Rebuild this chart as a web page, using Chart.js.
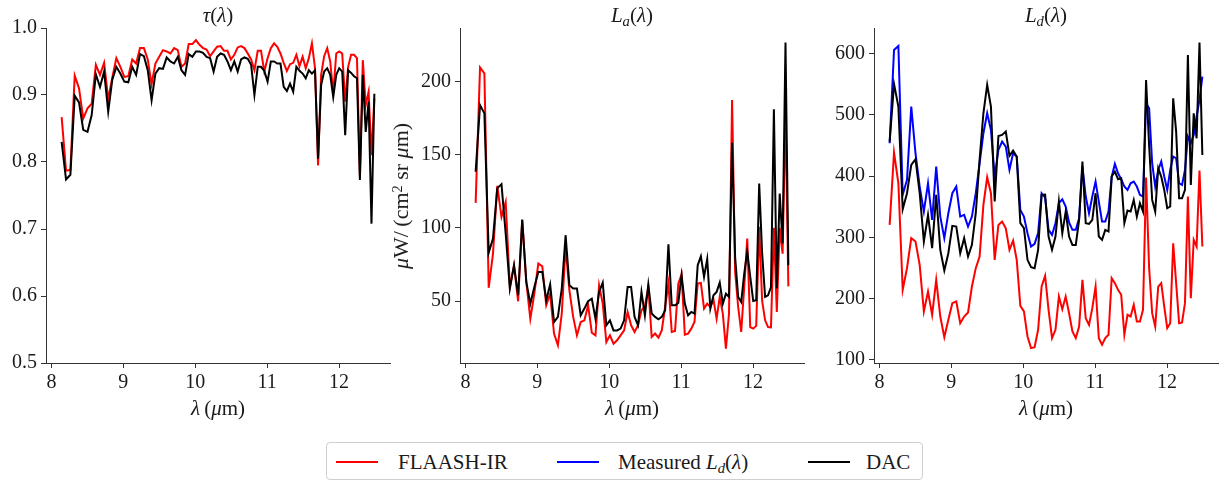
<!DOCTYPE html>
<html><head><meta charset="utf-8">
<script src="https://cdn.jsdelivr.net/npm/chart.js@4.4.0/dist/chart.umd.min.js"></script>
<style>
body{margin:0;background:#fff;width:1226px;height:482px;overflow:hidden;position:relative;font-family:"Liberation Serif","Times New Roman","DejaVu Serif",serif;color:#1a1a1a}
canvas{position:absolute;top:0}
.t{position:absolute;transform:translate(-50%,-50%);white-space:nowrap;font-size:21px;line-height:1;font-family:"Liberation Serif","Times New Roman",serif}
.sub{font-size:70%;position:relative;top:0.3em}
.sup{font-size:65%;position:relative;top:-0.45em}
.lg{position:absolute;left:326px;top:442px;width:597px;height:38px;border:1px solid #cfcfcf;border-radius:4px;box-sizing:border-box}
.ln{position:absolute;height:2px;top:461px}
.lt{position:absolute;top:462px;transform:translateY(-50%);font-size:21px;line-height:1;white-space:nowrap;font-family:"Liberation Serif","Times New Roman",serif}
</style></head><body>
<canvas id="c1" width="400" height="400" style="left:0px"></canvas>
<canvas id="c2" width="400" height="400" style="left:410px"></canvas>
<canvas id="c3" width="406" height="400" style="left:820px"></canvas>

<div class="t" style="left:218px;top:15px"><i>τ</i>(<i>λ</i>)</div>
<div class="t" style="left:632px;top:15px"><i>L</i><span class="sub"><i>a</i></span>(<i>λ</i>)</div>
<div class="t" style="left:1046px;top:15px"><i>L</i><span class="sub"><i>d</i></span>(<i>λ</i>)</div>
<div class="t" style="left:218px;top:408px"><i>λ</i>&#8201;(<i>μ</i>m)</div>
<div class="t" style="left:632px;top:408px"><i>λ</i>&#8201;(<i>μ</i>m)</div>
<div class="t" style="left:1046px;top:408px"><i>λ</i>&#8201;(<i>μ</i>m)</div>
<div class="t" style="left:401px;top:196px;transform:translate(-50%,-50%) rotate(-90deg);font-size:22px"><i>μ</i>W/&#8201;(cm<span class="sup">2</span> sr <i>μ</i>m)</div>

<div class="lg"></div>
<div class="ln" style="left:336px;width:42px;background:#ff0000"></div>
<div class="lt" style="left:398px">FLAASH-IR</div>
<div class="ln" style="left:557px;width:42px;background:#0000ff"></div>
<div class="lt" style="left:618px">Measured <i>L</i><span class="sub"><i>d</i></span>(<i>λ</i>)</div>
<div class="ln" style="left:808px;width:42px;background:#000000"></div>
<div class="lt" style="left:866px">DAC</div>

<script>
const wavelength = [
8.1425, 8.2035, 8.2640, 8.3241, 8.3838, 8.4430, 8.5018, 8.5602, 8.6182, 8.6759,
8.7331, 8.7900, 8.8465, 8.9027, 8.9585, 9.0139, 9.0690, 9.1238, 9.1783, 9.2324,
9.2862, 9.3398, 9.3930, 9.4459, 9.4985, 9.5508, 9.6028, 9.6546, 9.7061, 9.7573,
9.8082, 9.8589, 9.9093, 9.9595, 10.0094, 10.0591, 10.1085, 10.1577, 10.2066, 10.2553,
10.3038, 10.3520, 10.4001, 10.4479, 10.4955, 10.5429, 10.5900, 10.6370, 10.6837, 10.7303,
10.7766, 10.8227, 10.8687, 10.9144, 10.9600, 11.0054, 11.0506, 11.0956, 11.1404, 11.1851,
11.2295, 11.2738, 11.3179, 11.3618, 11.4056, 11.4493, 11.4927, 11.5360, 11.5791, 11.6220,
11.6648, 11.7075, 11.7500, 11.7923, 11.8345, 11.8765, 11.9184, 11.9602, 12.0018, 12.0432,
12.0845, 12.1257, 12.1668, 12.2076, 12.2484, 12.2890, 12.3295, 12.3699, 12.4101, 12.4502,
12.4901];

const tauFlaash = [
0.867, 0.787, 0.788, 0.929, 0.910, 0.865, 0.880, 0.887, 0.945, 0.930,
0.948, 0.894, 0.926, 0.955, 0.942, 0.927, 0.928, 0.953, 0.947, 0.970,
0.970, 0.953, 0.916, 0.947, 0.957, 0.967, 0.965, 0.962, 0.970, 0.967,
0.942, 0.947, 0.976, 0.976, 0.982, 0.975, 0.970, 0.968, 0.958, 0.965,
0.972, 0.973, 0.966, 0.966, 0.953, 0.960, 0.971, 0.973, 0.970, 0.962,
0.953, 0.937, 0.966, 0.966, 0.935, 0.955, 0.970, 0.977, 0.972, 0.962,
0.948, 0.936, 0.946, 0.948, 0.960, 0.943, 0.957, 0.940, 0.955, 0.977,
0.940, 0.795, 0.930, 0.958, 0.970, 0.950, 0.902, 0.962, 0.965, 0.962,
0.890, 0.942, 0.960, 0.960, 0.955, 0.780, 0.952, 0.885, 0.905, 0.810,
0.895];

const tauDac = [
0.830, 0.774, 0.781, 0.899, 0.889, 0.848, 0.845, 0.870, 0.931, 0.912,
0.935, 0.875, 0.923, 0.942, 0.932, 0.920, 0.919, 0.942, 0.930, 0.961,
0.958, 0.937, 0.892, 0.932, 0.940, 0.939, 0.956, 0.950, 0.947, 0.957,
0.937, 0.930, 0.961, 0.957, 0.965, 0.965, 0.963, 0.957, 0.955, 0.935,
0.957, 0.962, 0.960, 0.950, 0.937, 0.950, 0.935, 0.953, 0.956, 0.954,
0.945, 0.900, 0.942, 0.942, 0.936, 0.920, 0.950, 0.950, 0.947, 0.947,
0.912, 0.906, 0.917, 0.905, 0.942, 0.936, 0.932, 0.925, 0.937, 0.932,
0.937, 0.805, 0.915, 0.935, 0.940, 0.930, 0.897, 0.930, 0.940, 0.935,
0.840, 0.937, 0.933, 0.928, 0.925, 0.773, 0.930, 0.845, 0.890, 0.708,
0.902];

const laFlaash = [
117.1, 209.8, 205.7, 59.0, 82.4, 128.8, 107.5, 117.8, 59.6, 74.4,
49.8, 105.3, 63.0, 37.9, 55.0, 75.6, 73.8, 47.1, 55.0, 27.7,
19.7, 41.3, 87.0, 57.3, 39.1, 26.5, 35.6, 36.8, 47.1, 28.3,
26.5, 60.8, 48.2, 21.9, 26.5, 20.8, 23.1, 26.5, 29.9, 42.5,
33.4, 28.8, 33.4, 43.6, 46.4, 59.6, 25.4, 27.7, 24.9, 29.9,
45.9, 61.9, 28.8, 29.5, 61.9, 68.3, 27.0, 27.7, 31.1, 35.6,
61.9, 62.4, 44.8, 48.2, 45.9, 50.9, 37.9, 52.8, 41.4, 17.4,
41.4, 187.5, 70.0, 45.9, 28.8, 59.6, 92.7, 32.2, 31.1, 33.0,
100.7, 50.0, 36.8, 32.2, 32.0, 100.0, 42.5, 100.0, 82.4, 180.0,
60.0];

const laDac = [
138.4, 184.0, 178.3, 83.1, 92.7, 127.0, 129.9, 96.1, 58.5, 74.4,
53.9, 105.7, 63.0, 48.2, 59.6, 69.9, 69.9, 50.5, 61.4, 35.6,
39.1, 58.5, 95.0, 60.7, 58.5, 58.5, 40.2, 44.8, 49.8, 51.6,
37.9, 56.2, 62.6, 33.4, 36.8, 29.9, 29.9, 31.1, 36.8, 59.6,
59.6, 39.1, 33.4, 56.2, 40.2, 61.2, 41.4, 39.1, 37.5, 39.1,
43.6, 88.8, 47.1, 47.1, 48.7, 67.6, 48.2, 40.2, 42.5, 41.4,
74.4, 80.6, 66.5, 78.6, 44.8, 53.9, 56.2, 62.6, 48.2, 55.0,
52.8, 158.2, 80.0, 52.8, 49.3, 68.7, 84.0, 66.5, 50.0, 50.5,
130.4, 82.4, 52.8, 53.9, 59.6, 181.1, 58.5, 123.5, 89.3, 226.7,
74.4];

const ldFlaash = [
320.5, 438.6, 388.5, 214.5, 249.9, 298.8, 293.4, 255.3, 179.2, 211.8,
173.7, 230.8, 171.0, 137.3, 165.6, 192.8, 195.5, 160.1, 171.0, 177.5,
219.9, 249.9, 268.9, 353.2, 398.3, 372.2, 263.5, 320.5, 326.0, 315.1,
279.8, 295.0, 263.5, 188.4, 179.2, 138.4, 119.4, 121.0, 149.3, 219.9,
237.4, 181.9, 135.7, 149.3, 203.6, 183.0, 203.6, 176.4, 146.5, 135.7,
154.7, 230.8, 168.3, 157.4, 184.6, 219.9, 135.7, 124.8, 135.7, 141.1,
233.6, 225.4, 214.5, 206.4, 141.1, 173.7, 171.0, 190.1, 162.9, 162.9,
181.9, 398.0, 250.0, 176.4, 154.7, 219.9, 225.4, 187.3, 152.0, 160.1,
290.6, 225.4, 160.1, 161.2, 192.8, 366.8, 200.9, 296.1, 285.2, 409.2,
285.2];

const ldMeasured = [
453.8, 606.0, 612.6, 369.5, 394.0, 513.6, 437.5, 383.1, 342.3, 388.5,
328.7, 415.7, 334.1, 298.8, 339.6, 372.2, 383.1, 334.1, 336.9, 317.8,
334.1, 372.2, 421.1, 470.1, 502.7, 475.5, 399.4, 442.9, 456.5, 448.3,
410.3, 437.5, 432.0, 345.0, 334.1, 307.0, 285.2, 289.6, 307.0, 372.2,
365.0, 312.4, 304.2, 323.3, 355.9, 362.4, 350.5, 324.4, 312.4, 312.4,
331.4, 415.7, 366.8, 339.6, 366.8, 391.2, 358.6, 326.0, 326.0, 342.3,
399.4, 420.1, 404.8, 395.1, 383.1, 377.6, 388.5, 391.2, 383.1, 369.5,
366.8, 519.0, 510.9, 421.2, 383.1, 410.3, 423.9, 399.4, 377.6, 410.3,
432.0, 429.3, 388.5, 385.8, 410.3, 464.7, 453.8, 467.4, 497.3, 524.5,
562.5];

const ldDac = [
456.5, 550.6, 513.6, 346.1, 372.2, 418.4, 427.7, 372.2, 293.4, 336.9,
282.5, 369.5, 279.8, 246.1, 274.3, 318.9, 317.8, 274.3, 298.8, 268.9,
287.9, 339.6, 426.6, 502.7, 549.0, 513.6, 358.6, 465.7, 467.4, 472.8,
433.1, 441.8, 432.0, 323.3, 315.1, 263.5, 251.5, 249.9, 279.8, 369.5,
370.0, 301.5, 279.8, 301.5, 358.6, 307.0, 342.3, 301.5, 287.9, 287.9,
328.7, 423.9, 323.3, 322.2, 328.7, 372.2, 301.5, 296.1, 312.4, 309.7,
399.4, 407.6, 395.1, 396.7, 323.3, 344.0, 342.3, 361.3, 334.1, 355.9,
342.3, 557.1, 450.0, 361.3, 342.3, 413.0, 399.4, 377.6, 347.7, 350.5,
527.2, 472.8, 364.0, 364.0, 377.6, 597.9, 385.8, 502.7, 461.9, 618.0,
434.7];

const xTicks = [8, 9, 10, 11, 12];
const tauTicks = [0.5, 0.6, 0.7, 0.8, 0.9, 1.0];
const laTicks = [50, 100, 150, 200];
const ldTicks = [100, 200, 300, 400, 500, 600];

const pts = vals => vals.map((v, i) => ({x: wavelength[i], y: v}));
const ds = (label, vals, color, order) => ({label, data: pts(vals), borderColor: color, backgroundColor: color,
  borderWidth: 2, pointRadius: 0, tension: 0, fill: false, order});

const FONT = {family: "'Liberation Serif', 'Times New Roman', serif", size: 20};
const AX = '#333333';

function makeChart(id, datasets, yMin, yMax, yTicks, yWidth, padRight, fmt) {
  return new Chart(document.getElementById(id), {
    type: 'line',
    data: {datasets},
    options: {
      responsive: false, animation: false, devicePixelRatio: 1,
      layout: {padding: {top: 28, right: padRight, left: 0, bottom: 0}},
      plugins: {legend: {display: false}, tooltip: {enabled: false}, title: {display: false}},
      scales: {
        x: {type: 'linear', min: 7.925, max: 12.7075,
          afterBuildTicks: a => { a.ticks = xTicks.map(v => ({value: v})); },
          afterFit: a => { a.height = 37; },
          grid: {drawOnChartArea: false, drawTicks: true, tickLength: 5, color: AX, lineWidth: 1},
          border: {display: true, color: AX, width: 1},
          ticks: {font: FONT, color: '#1a1a1a', padding: 3, maxRotation: 0, autoSkip: false, callback: v => String(v)}},
        y: {type: 'linear', min: yMin, max: yMax,
          afterBuildTicks: a => { a.ticks = yTicks.map(v => ({value: v})); },
          afterFit: a => { a.width = yWidth; },
          grid: {drawOnChartArea: false, drawTicks: true, tickLength: 5, color: AX, lineWidth: 1},
          border: {display: true, color: AX, width: 1},
          ticks: {font: FONT, color: '#1a1a1a', padding: 4, autoSkip: false, callback: fmt}}
      }
    }
  });
}

makeChart('c1', [ds('FLAASH-IR', tauFlaash, '#ff0000', 2), ds('DAC', tauDac, '#000000', 0)],
  0.5, 1.0, tauTicks, 46, 10, v => v.toFixed(1));
makeChart('c2', [ds('FLAASH-IR', laFlaash, '#ff0000', 2), ds('DAC', laDac, '#000000', 0)],
  7.6, 236.7, laTicks, 50, 6, v => String(Math.round(v)));
makeChart('c3', [ds('FLAASH-IR', ldFlaash, '#ff0000', 2), ds('Measured Ld', ldMeasured, '#0000ff', 1), ds('DAC', ldDac, '#000000', 0)],
  95.1, 641.9, ldTicks, 54, 8, v => String(Math.round(v)));
</script>
</body></html>
